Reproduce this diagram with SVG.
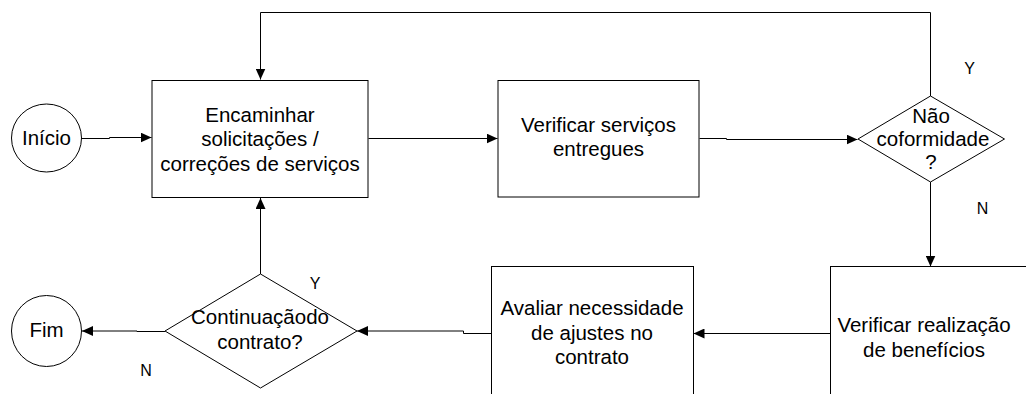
<svg xmlns="http://www.w3.org/2000/svg" width="1026" height="394" viewBox="0 0 1026 394">
<style>
.shape{fill:#fff;stroke:#000;stroke-width:1}
.t{font-family:"Liberation Sans",Arial,sans-serif;font-size:20.5px;fill:#000;text-anchor:middle}
.lbl{font-family:"Liberation Sans",Arial,sans-serif;font-size:16px;fill:#000;text-anchor:middle}
.c{fill:none;stroke:#000;stroke-width:1}
</style>
<defs>
<marker id="arr" markerWidth="12" markerHeight="10" refX="11" refY="5" orient="auto" markerUnits="userSpaceOnUse">
<path d="M0,0 L11,5 L0,10 Z" fill="#000"/>
</marker>
</defs>
<rect width="1026" height="394" fill="#fff"/>
<g id="connectors">
<path class="c" d="M81,138.5 H109.5 V137.5 H151.5" marker-end="url(#arr)"/>
<path class="c" d="M368.5,138.5 H497.5" marker-end="url(#arr)"/>
<path class="c" d="M699.5,138.5 H726.5 V139.5 H857.5" marker-end="url(#arr)"/>
<path class="c" d="M930.5,96 V12.5 H260.5 V79.5" marker-end="url(#arr)"/>
<path class="c" d="M930.5,182 V266.5" marker-end="url(#arr)"/>
<path class="c" d="M830,333.5 H693.5" marker-end="url(#arr)"/>
<path class="c" d="M491.5,333.5 H463.5 V331 H357" marker-end="url(#arr)"/>
<path class="c" d="M260.5,274 V198" marker-end="url(#arr)"/>
<path class="c" d="M165,331.5 H137 V331 H82" marker-end="url(#arr)"/>
</g>
<g id="inicio">
<ellipse class="shape" cx="46.5" cy="138" rx="35" ry="34"/>
<text class="t" x="46.5" y="145">Início</text>
</g>
<g id="encaminhar">
<rect class="shape" x="152" y="80.5" width="216" height="117"/>
<text class="t" x="260" y="121.5">Encaminhar</text>
<text class="t" x="260" y="146">solicitações /</text>
<text class="t" x="260" y="170.5">correções de serviços</text>
</g>
<g id="verificar-servicos">
<rect class="shape" x="498" y="80.5" width="201" height="116.5"/>
<text class="t" x="598.5" y="131.5">Verificar serviços</text>
<text class="t" x="598.5" y="156">entregues</text>
</g>
<g id="nao-conformidade">
<polygon class="shape" points="930.5,96 1004.5,139 930.5,182 858,139"/>
<text class="t" x="931" y="122.5">Não</text>
<text class="t" x="933" y="146">coformidade</text>
<text class="t" x="931" y="168.5">?</text>
<text class="lbl" x="969.5" y="73.5">Y</text>
<text class="lbl" x="982.5" y="213.5">N</text>
</g>
<g id="verificar-beneficios">
<rect class="shape" x="830.5" y="266.5" width="210" height="140"/>
<text class="t" x="924" y="331.5">Verificar realização</text>
<text class="t" x="924" y="356.5">de benefícios</text>
</g>
<g id="avaliar">
<rect class="shape" x="491.5" y="266.5" width="202" height="140"/>
<text class="t" x="592" y="315">Avaliar necessidade</text>
<text class="t" x="592" y="340">de ajustes no</text>
<text class="t" x="592" y="363.5">contrato</text>
</g>
<g id="continuacao">
<polygon class="shape" points="260.5,274 357,331 260.5,388 165,331"/>
<text class="t" x="260" y="324">Continuaçãodo</text>
<text class="t" x="260" y="349">contrato?</text>
<text class="lbl" x="315" y="288.5">Y</text>
<text class="lbl" x="146" y="376">N</text>
</g>
<g id="fim">
<ellipse class="shape" cx="46.5" cy="331" rx="35" ry="35.5"/>
<text class="t" x="46.5" y="337">Fim</text>
</g>
</svg>
